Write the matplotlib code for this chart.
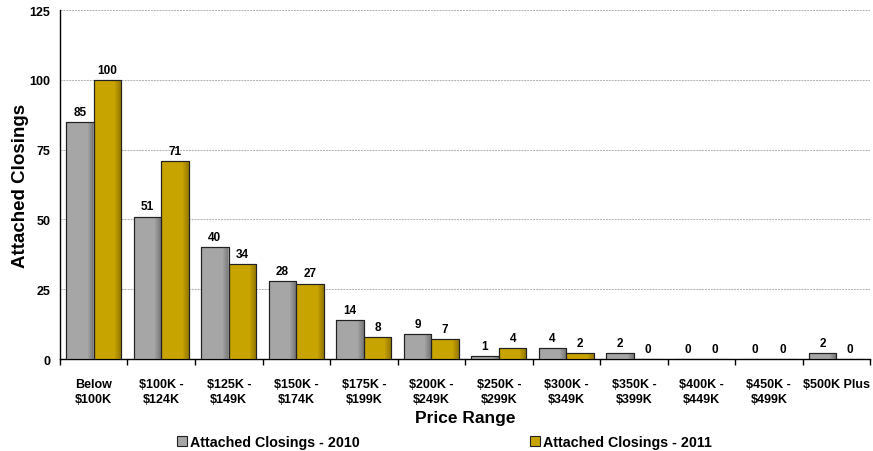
import numpy as np
import matplotlib
matplotlib.use("Agg")
import matplotlib.pyplot as plt
from matplotlib.patches import Rectangle

categories = ["Below\n$100K", "$100K -\n$124K", "$125K -\n$149K", "$150K -\n$174K",
              "$175K -\n$199K", "$200K -\n$249K", "$250K -\n$299K", "$300K -\n$349K",
              "$350K -\n$399K", "$400K -\n$449K", "$450K -\n$499K", "$500K Plus"]
closings_2010 = [85, 51, 40, 28, 14, 9, 1, 4, 2, 0, 0, 2]
closings_2011 = [100, 71, 34, 27, 8, 7, 4, 2, 0, 0, 0, 0]
series_names = ["Attached Closings - 2010", "Attached Closings - 2011"]
y_ticks = [0, 25, 50, 75, 100, 125]

plt.rcParams["font.family"] = ["Liberation Sans", "DejaVu Sans"]
plt.rcParams["font.weight"] = "bold"

fig = plt.figure(figsize=(8.73, 4.52), dpi=100)
ax = fig.add_axes([0.0687, 0.2035, 0.928, 0.772])

x = np.arange(len(categories))
w = 0.41
colors = ["#A6A6A6", "#C8A400"]
shades = ["#6E6E6E", "#8A7000"]

for i, (vals, col, shade) in enumerate(zip([closings_2010, closings_2011], colors, shades)):
    pos = x + (i - 0.5) * w
    bars = ax.bar(pos, vals, width=w, color=col, edgecolor="#222222", linewidth=0.8,
                  zorder=3, label=series_names[i])
    # darker shading strip on right edge of each bar
    for b in bars:
        h = b.get_height()
        if h <= 0:
            continue
        for k, a in enumerate(np.linspace(0.15, 0.8, 6)):
            xs = b.get_x() + b.get_width() * (0.78 + k * 0.035)
            ax.add_patch(Rectangle((xs, 0), b.get_width() * 0.035, h, facecolor=shade,
                                   alpha=a, linewidth=0, zorder=3.5))
        ax.add_patch(Rectangle((b.get_x(), 0), b.get_width(), h, fill=False,
                               edgecolor="#222222", linewidth=0.8, zorder=4))
    for p, v in zip(pos, vals):
        ax.annotate(f"{v}", (p, v), xytext=(0, 3), textcoords="offset points",
                    ha="center", va="bottom", fontsize=8.5, fontweight="bold", zorder=5)

ax.set_xlim(-0.5, len(categories) - 0.5)
ax.set_ylim(0, 125)
ax.set_yticks(y_ticks)
ax.set_yticklabels([str(t) for t in y_ticks], fontsize=9, fontweight="bold")
ax.yaxis.grid(True, color="#B0B0B0", linestyle=(0, (2, 1)), linewidth=0.7, zorder=0)
ax.set_axisbelow(True)

ax.set_xticks(x)
ax.set_xticklabels(categories, fontsize=9, fontweight="bold", linespacing=1.25)
ax.tick_params(axis="x", length=0, pad=14)
ax.set_xticks(np.arange(len(categories) + 1) - 0.5, minor=True)
ax.tick_params(axis="x", which="minor", length=4, width=1, direction="out")
ax.tick_params(axis="y", length=0, pad=7)

for s in ["top", "right"]:
    ax.spines[s].set_visible(False)
ax.spines["left"].set_linewidth(1.0)
ax.spines["bottom"].set_linewidth(1.0)

ax.set_ylabel("Attached Closings", fontsize=13.5, fontweight="bold", labelpad=0)
ax.set_xlabel("Price Range", fontsize=12.5, fontweight="bold", labelpad=4)

leg = fig.legend(loc="lower left", bbox_to_anchor=(0.188, -0.025), ncol=2, frameon=False,
                 fontsize=10.3, handlelength=0.7, handleheight=0.7, handletextpad=0.2,
                 columnspacing=11.9)
for t in leg.get_texts():
    t.set_fontweight("bold")

fig.savefig("out.png", dpi=100)
